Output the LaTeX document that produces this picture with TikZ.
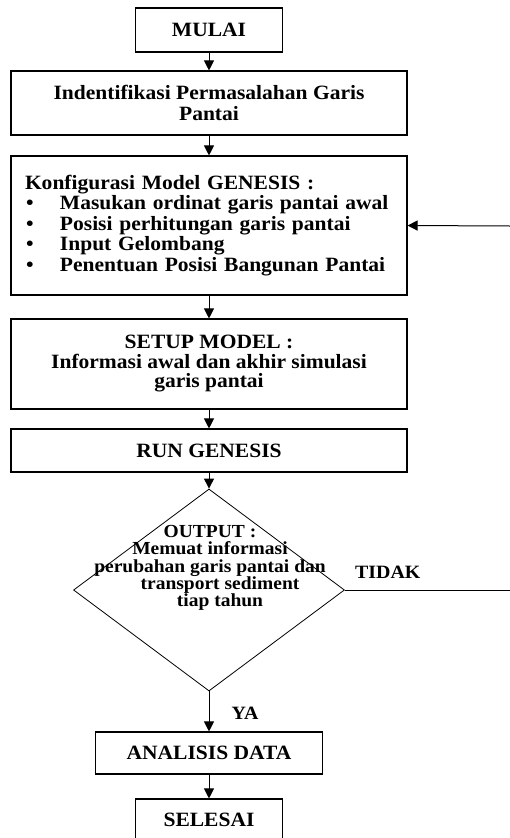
\documentclass[tikz,border=0pt]{standalone}
\usepackage{fontspec}
\setmainfont{Liberation Serif}[FakeStretch=1.06]
\usepackage{tikz}
\usetikzlibrary{shapes,arrows.meta,positioning}

\tikzset{
  box/.style={draw, line width=1.1pt, align=center, inner sep=0pt,
    font=\bfseries\fontsize{20.3}{19.5}\selectfont},
  decision/.style={draw, diamond, line width=0.8pt, inner sep=0pt},
  dectext/.style={align=center, font=\bfseries\fontsize{18.4}{17.4}\selectfont},
  lbl/.style={font=\bfseries\fontsize{18.8}{18}\selectfont, inner sep=0pt},
  arr/.style={line width=1pt, -{Triangle[width=10pt,length=10pt]}},
  line/.style={line width=0.8pt}
}

\begin{document}
\begin{tikzpicture}[x=1pt,y=-1pt]
  \useasboundingbox (0,0) rectangle (510,838);

  \node[box, minimum width=147pt, minimum height=44pt] (mulai) at (209,30) {MULAI};
  \node[box, minimum width=396pt, minimum height=64pt] (ident) at (209,103)
    {Indentifikasi Permasalahan Garis\\[1pt]Pantai};
  \node[box, minimum width=396pt, minimum height=139pt, align=left,
    text width=368pt, font=\bfseries\fontsize{20.3}{20.5}\selectfont] (konfig) at (209,225.5)
    {Konfigurasi Model GENESIS :\\
     \makebox[35pt][l]{\hspace{1pt}\textbullet}Masukan ordinat garis pantai awal\\
     \makebox[35pt][l]{\hspace{1pt}\textbullet}Posisi perhitungan garis pantai\\
     \makebox[35pt][l]{\hspace{1pt}\textbullet}Input Gelombang\\
     \makebox[35pt][l]{\hspace{1pt}\textbullet}Penentuan Posisi Bangunan Pantai};
  \node[box, minimum width=396pt, minimum height=90pt] (setup) at (209,364)
    {SETUP MODEL :\\Informasi awal dan akhir simulasi\\garis pantai};
  \node[box, minimum width=396pt, minimum height=43pt] (run) at (209,450.5) {RUN GENESIS};
  \node[decision, minimum width=271pt, minimum height=202pt] (cek) at (209,590) {};
  \node[dectext] (cektext) at (210,568)
    {OUTPUT :\\Memuat informasi\\perubahan garis pantai dan\\
     \hspace*{20pt}transport sediment\\\hspace*{20pt}tiap tahun};
  \node[box, minimum width=227pt, minimum height=42pt] (analisis) at (209,753) {ANALISIS DATA};
  \node[box, minimum width=147pt, minimum height=42pt] (selesai) at (209,820) {SELESAI};

  \coordinate (tidak) at (510,590);
  \coordinate (balik) at (510,226);

  \draw[arr] (mulai.south) -- (ident.north);
  \draw[arr] (ident.south) -- (konfig.north);
  \draw[arr] (konfig.south) -- (setup.north);
  \draw[arr] (setup.south) -- (run.north);
  \draw[arr] (run.south) -- (cek.north);
  \draw[arr] (cek.south) -- (analisis.north) node[lbl, pos=0.54, xshift=36pt] {YA};
  \draw[arr] (analisis.south) -- (selesai.north);
  \draw[line] (cek.east) -- (tidak) node[lbl, pos=0.26, yshift=18pt] {TIDAK};
  \draw[arr] (balik) -- (konfig.east);
\end{tikzpicture}
\end{document}
